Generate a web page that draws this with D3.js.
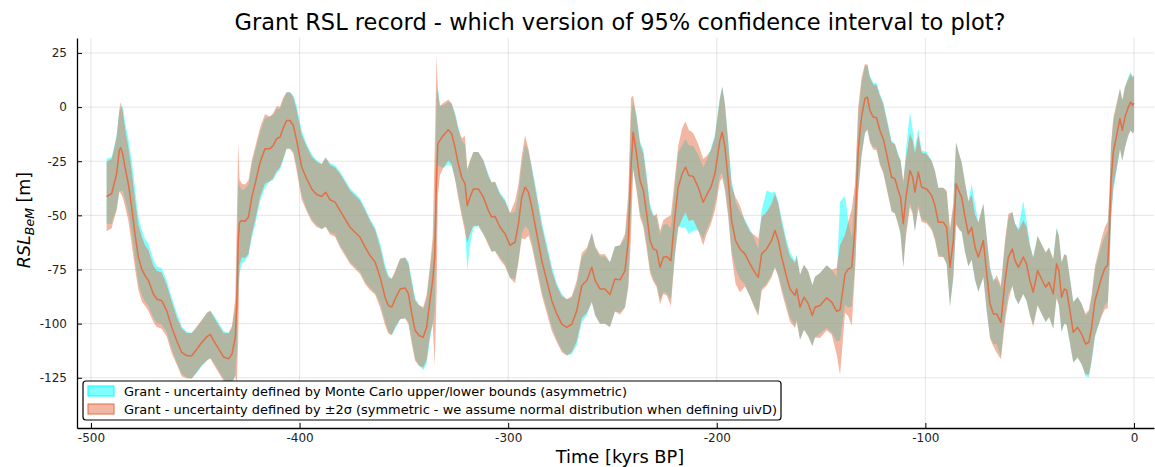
<!DOCTYPE html>
<html><head><meta charset="utf-8">
<script src="https://cdn.jsdelivr.net/npm/d3@7"></script>
<style>body{margin:0;background:#fff;} svg{display:block;font-family:"DejaVu Sans",sans-serif;}</style>
</head><body><svg id="chart" width="1155" height="467"></svg>
<script>
// ---- data (time in kyrs BP, RSL in m) ----
const time = [
-492.5,-490.1,-489.3,-487.7,-486.4,-485.8,-484.8,-483.7,-482.1,-480.5,
-478.9,-477.3,-475.7,-474.1,-472.5,-470.1,-468.5,-466.1,-463.7,-461.3,
-458.9,-456.5,-454.1,-451.7,-449.2,-446.8,-444.4,-442.8,-441.2,-438.8,
-436.4,-434,-432.4,-430.8,-430.1,-429.4,-428.8,-427.7,-426.1,-424.5,
-422.9,-421.3,-418.9,-416.6,-414.2,-412.6,-411,-409.4,-407.8,-406.2,
-404.6,-403,-401.4,-399,-396.6,-394.2,-391.8,-389.4,-387.5,-385.4,
-383,-380.6,-378.2,-375.8,-373.4,-371,-368.6,-366.2,-363.8,-361.4,
-359,-357.4,-355.8,-354.2,-351.8,-349.4,-347.8,-346.2,-344.6,-342.7,
-340.7,-339.1,-337.5,-336.2,-335.2,-334.3,-333.7,-332.7,-331.1,-328.7,
-327.1,-325.5,-323.9,-322.3,-320.7,-319.6,-318.3,-316.7,-314.3,-311.9,
-309.5,-307.9,-306.3,-303.9,-301.5,-299.1,-296.7,-295.1,-293.5,-291.9,
-290.3,-288.7,-286.3,-283.9,-281.5,-279.1,-276.7,-274.3,-271.9,-269.5,
-267.1,-264.7,-262.3,-259.9,-258.3,-256,-253.6,-251.2,-248.8,-246.4,
-244,-242.4,-241.1,-240.1,-238.5,-236.8,-235.2,-233.6,-232,-230.4,
-228.8,-227.2,-225.6,-224,-222,-220.1,-218.5,-216.6,-215,-213.4,
-211.3,-208.9,-206.5,-204.9,-202.8,-200.9,-198.5,-197.4,-196.1,-194.5,
-192.9,-191,-188.9,-186.5,-184.1,-181.7,-180.1,-178.5,-176.1,-173.7,
-172.1,-170.5,-168.9,-166.5,-164.9,-162.5,-161.7,-160.1,-158.2,-156.1,
-154.2,-152.9,-150.5,-147.3,-144.9,-142.5,-140.9,-138.5,-136.9,-135.3,
-133.7,-132.2,-130.6,-129,-127.8,-126.6,-125,-123.4,-121.8,-120.2,
-118.6,-116.2,-114.6,-113,-111.9,-110.6,-109.3,-107.4,-106.1,-105,
-103.4,-101.8,-99.4,-97,-95.4,-93.8,-91.4,-89.8,-88.2,-86.6,
-85.3,-83.4,-82.6,-81,-79.4,-77.8,-76.2,-74.6,-72.2,-70.6,
-69,-67.4,-65.8,-63.8,-61.8,-60.2,-58.3,-57,-55.4,-53.1,
-51.5,-49.9,-48.3,-46.2,-44.3,-42.3,-40.7,-38.7,-37.1,-36,
-34.7,-33.4,-32.3,-30.7,-29.1,-27,-25.1,-23.2,-21.6,-20.3,
-18.7,-17.1,-15.5,-13.9,-12.6,-11.8,-11,-9.9,-8.3,-6.7,
-5.6,-4.3,-2.7,-1.6,-0.6,0];

const rslMean = [
-41.3,-40,-37,-30.8,-20,-18.8,-21.6,-27.7,-35.4,-46.2,
-58.5,-69.3,-74.7,-77.8,-80,-86.3,-88.6,-89.4,-94,-101.7,
-107.9,-113.3,-114.8,-114.8,-111.7,-108.6,-106,-105,-107.9,-111.7,
-115.4,-116.3,-114,-106.2,-91,-61.6,-53.2,-52.4,-52.7,-50.8,
-41.6,-35.4,-25.4,-19.3,-19.3,-17.7,-14.6,-13.9,-9.6,-6.2,
-6.2,-8.5,-15.4,-27.7,-33.1,-37.8,-40.4,-41.3,-39.3,-42.8,
-43.9,-47.8,-51.6,-55.5,-57.8,-60.1,-64.7,-68.6,-71.6,-78.6,
-87.8,-91.7,-92.3,-88.6,-84,-83.5,-86.3,-95.5,-103.2,-105.5,
-106.3,-101.7,-89.4,-80.1,-69.3,-30.8,-16.9,-15.4,-13.1,-10.5,
-12.3,-18.5,-26.2,-32.4,-35.4,-45.5,-41.6,-37.8,-37.8,-41.6,
-47.8,-50.8,-50.5,-55.5,-58.5,-63.9,-62.4,-53.9,-41.6,-37,
-39.3,-46.2,-58.5,-70.9,-80.1,-89.4,-95.5,-100.2,-101.7,-100.2,
-94,-82.4,-80.1,-74,-80.1,-84,-84,-86.6,-79.4,-79.8,
-75.5,-61.6,-27.7,-11.6,-21.6,-33.9,-38.5,-49.3,-61.6,-65.5,
-66.2,-74,-69.3,-69,-70.9,-50.8,-37,-30.8,-27.7,-31.6,
-32,-37,-43.9,-40.7,-37,-30.8,-15.4,-11.6,-18.5,-33.9,
-52.4,-61.6,-65.5,-67.8,-72.4,-76.3,-78.6,-67.8,-65.5,-61.6,
-57,-61.6,-69.3,-78.6,-84,-87,-84,-92.4,-87.8,-90.9,
-96.3,-92.4,-91.6,-88.1,-90.1,-94.3,-93.7,-77,-74.7,-74,
-55.5,-20,-4.6,3.9,4.6,-1.5,-4.6,-4.9,-10.8,-14.6,
-21.6,-32.4,-33.1,-38.5,-41.6,-53.9,-41.6,-29.3,-32.4,-39.3,
-30,-37,-37.8,-40.8,-45.5,-53.2,-53.2,-55.5,-74,-61.6,
-35.4,-40,-41.6,-50.8,-58.5,-55.5,-64.7,-69.3,-61.6,-77,
-90.9,-95.5,-95.5,-99.4,-80.1,-69.3,-65.5,-70.9,-74,-69.3,
-72.4,-80.1,-85.5,-75.5,-79.4,-83.2,-80.9,-86.3,-72.4,-75.5,
-87.8,-84,-84.5,-94,-104,-101.7,-104.8,-109.4,-108.6,-101.7,
-89.4,-84,-78.6,-74.3,-73,-58.4,-33.7,-20.8,-13.1,-5.4,
-10.8,-4.6,0,2.3,0.8,1.8];

// half-width of the symmetric ±2σ band
const twoSigma = [
16,16,16,17,19,21,20,18,17,17,
16,15,15,14,14,13,13,13,12,12,
11,11,10.5,10.5,10.5,10.5,11,11,11,11,
11,12,13,18,38,45,20,17,17,17,
17,17,16,16,15,15,15,14,14,13,
13,13,14,15,15,15,15,15,16,16,
16,17,17,17,17,17,17,16,15,14,
13,13,13,13,14,14,14,14,14,14,
14,15,16,20,50,55,24,16,15,14,
14,15,16,18,22,17,17,17,17,17,
16,16,16,15,15,15,19,18,19,24,
20,18,17,16,15,14,13,13,13,13,
14,15,15,16,16,16,16,15,15,16,
17,22,32,17,17,17,17,16,15,15,
17,17,17,18,21,18,19,21,21,21,
20,20,20,18,17,17,19,21,20,17,
16,20,20,15,15,17,18,17,17,17,
17,17,16,15,15,15,15,15,15,15,
14,14,15,15,15,20,30,18,22,27,
20,20,18,16,15,15,15,15,16,16,
16,16,16,16,17,20,18,17,17,18,
17,16,16,16,16,16,16,17,18,17,
19,17,16,16,15,15,15,16,17,17,
16,15,18,17,19,20,17,17,17,17,
17,16,16,16,16,16,16,16,16,16,
16,16,16,15,14,14,14,14,15,15,
16,17,18,19,20,18,17,16,15,14,
14,14,13,13,13,13];

// Monte Carlo bounds: distance above / below the mean
const mcAbove = [
17.4,17,17,18,18,18,22,21,21,22,
21,19,18,17,17,16,15,15,14,14,
13,12,11,10.5,10,10,11,11,12,12,
12,12,12,14,18,27,17,14,15,15,
15,15,14,14,15,14,14,13,13,13,
13,14,16,17,16,16,16,15,16,17,
17,18,18,18,18,18,18,17,16,16,
15,14,13,12,14,14,15,16,15,14,
13,13,14,15,20,38,26,16,14,13,
14,16,17,17,18,16,16,17,17,17,
17,16,16,16,16,15,14,14,15,20,
19,19,19,18,17,16,14,14,13,12,
12,13,14,16,15,15,15,15,15,16,
15,16,24,14,18,18,19,18,17,16,
15,15,15,15,15,14,16,13,13,14,
14,15,16,16,18,18,20,21,20,19,
19,18,17,16,16,15,13,20,27,22,
18,18,18,17,17,16,16,15,15,15,
14,14,15,15,15,16,50,36,22,14,
16,16,16,15,15,16,16,16,17,17,
17,17,16,17,17,18,22,27,22,20,
20,17,17,16,16,16,16,16,16,16,
19,17,16,16,15,20,20,16,17,17,
17,16,16,16,17,18,17,17,18,26,
20,17,16,16,16,16,16,16,17,16,
16,16,16,15,14,14,14,13,14,14,
14,15,15,15,16,15,15,14,14,14,
14,14,14,14,13,13];

const mcBelow = [
12.6,14,14,16,19,20,17,15,13,12,
12,12,12,12,12,11,11,11,10,10,
10,10,10,10.5,11,11,11,11,10,10,
10,12,14,18,22,23,24,20,18,18,
19,19,18,18,15,16,16,15,15,13,
13,12,12,13,14,14,14,15,16,15,
15,16,16,16,16,16,16,15,14,12,
11,12,13,14,14,14,13,12,13,14,
15,17,18,20,25,20,10,12,15,16,
15,14,14,16,20,30,22,18,17,17,
15,16,16,14,14,15,17,17,17,18,
17,16,15,14,13,12,12,12,13,14,
16,17,16,16,16,16,16,15,15,15,
17,20,18,17,15,15,15,14,13,14,
16,15,16,17,18,18,18,25,28,27,
25,20,17,16,15,14,16,19,18,15,
14,13,14,14,15,16,17,16,16,16,
17,16,14,13,13,14,14,15,15,15,
14,14,13,14,14,14,14,14,18,18,
18,18,18,16,15,14,14,14,15,15,
15,15,16,15,17,20,16,15,16,18,
15,15,15,15,15,15,16,17,18,17,
18,17,16,16,15,15,15,16,17,17,
15,14,14,16,16,17,17,17,17,17,
17,16,15,16,16,16,16,16,15,16,
16,16,16,15,14,14,14,15,16,16,
17,17,17,17,17,18,19,18,16,14,
14,14,13,13,13,13];

const xTicks = [-500, -400, -300, -200, -100, 0];
const yTicks = [25, 0, -25, -50, -75, -100, -125];
const titleText = "Grant RSL record - which version of 95% confidence interval to plot?";
const legendLabels = [
  "Grant - uncertainty defined by Monte Carlo upper/lower bounds (asymmetric)",
  "Grant - uncertainty defined by \u00b12\u03c3 (symmetric - we assume normal distribution when defining uivD)"
];

// ---- layout ----
const svg = d3.select("#chart");
const pL = 77, pR = 1154, pT = 38, pB = 428;
const x = d3.scaleLinear().domain([-506.7, 9.6]).range([pL, pR]);
const y = d3.scaleLinear().domain([-148.2, 31.9]).range([pB, pT]);

const cyanFill = "rgba(0,255,255,0.5)";
const salmonFill = "rgba(227,111,71,0.5)";
const lineColor = "#e26f46";

const rows = time.map((t, i) => ({
  t, m: rslMean[i],
  sHi: rslMean[i] + twoSigma[i], sLo: rslMean[i] - twoSigma[i],
  cHi: rslMean[i] + mcAbove[i], cLo: rslMean[i] - mcBelow[i]
}));

svg.append("defs").append("clipPath").attr("id", "clip")
  .append("rect").attr("x", pL).attr("y", pT).attr("width", pR - pL).attr("height", pB - pT);

// grid
const grid = svg.append("g");
grid.selectAll("line.gx").data(xTicks).join("line")
  .attr("x1", d => x(d)).attr("x2", d => x(d)).attr("y1", pT).attr("y2", pB)
  .attr("stroke", "#000").attr("stroke-opacity", 0.1).attr("stroke-width", 1);
grid.selectAll("line.gy").data(yTicks).join("line")
  .attr("y1", d => y(d)).attr("y2", d => y(d)).attr("x1", pL).attr("x2", pR)
  .attr("stroke", "#000").attr("stroke-opacity", 0.1).attr("stroke-width", 1);

const plot = svg.append("g").attr("clip-path", "url(#clip)");
plot.append("path").datum(rows)
  .attr("d", d3.area().x(d => x(d.t)).y0(d => y(d.cLo)).y1(d => y(d.cHi)))
  .attr("fill", cyanFill).attr("stroke", "none");
plot.append("path").datum(rows)
  .attr("d", d3.area().x(d => x(d.t)).y0(d => y(d.sLo)).y1(d => y(d.sHi)))
  .attr("fill", salmonFill).attr("stroke", "none");
plot.append("path").datum(rows)
  .attr("d", d3.line().x(d => x(d.t)).y(d => y(d.m)))
  .attr("fill", "none").attr("stroke", lineColor).attr("stroke-width", 1.5).attr("stroke-linejoin", "round");

// axes
const xAxis = svg.append("g").attr("transform", `translate(0,${pB})`)
  .call(d3.axisBottom(x).tickValues(xTicks).tickFormat(d => String(d)).tickSizeInner(-5).tickSizeOuter(0).tickPadding(5));
const yAxis = svg.append("g").attr("transform", `translate(${pL},0)`)
  .call(d3.axisLeft(y).tickValues(yTicks).tickFormat(d => String(d)).tickSizeInner(-5).tickSizeOuter(0).tickPadding(10));
[xAxis, yAxis].forEach(a => {
  a.select(".domain").attr("stroke", "#000").attr("stroke-width", 1.3);
  a.selectAll(".tick line").attr("stroke", "#000").attr("stroke-width", 1);
  a.selectAll(".tick text").attr("font-family", "DejaVu Sans").attr("font-size", 12).attr("fill", "#222");
});

// title and axis labels
svg.append("text").attr("x", 620).attr("y", 30).attr("text-anchor", "middle")
  .attr("font-size", 22.5).attr("fill", "#000").text(titleText);
svg.append("text").attr("x", 620).attr("y", 463).attr("text-anchor", "middle")
  .attr("font-size", 17.8).attr("fill", "#000").text("Time [kyrs BP]");
const yl = svg.append("text").attr("transform", "translate(30,220) rotate(-90)")
  .attr("text-anchor", "middle").attr("font-size", 17.5).attr("fill", "#000");
yl.append("tspan").attr("font-style", "italic").text("RSL");
yl.append("tspan").attr("font-style", "italic").attr("font-size", 12.5).attr("dy", 4).text("BeM");
yl.append("tspan").attr("dy", -4).text(" [m]");

// legend
const lg = svg.append("g");
lg.append("rect").attr("x", 83).attr("y", 381).attr("width", 698).attr("height", 39).attr("rx", 3)
  .attr("fill", "#fff").attr("stroke", "#000").attr("stroke-width", 1.2);
const legendFills = [cyanFill, salmonFill];
const legendStrokes = ["#00ffff", lineColor];
legendLabels.forEach((lab, i) => {
  const cy = 391 + i * 18;
  lg.append("rect").attr("x", 88).attr("y", cy - 5).attr("width", 26).attr("height", 10)
    .attr("fill", legendFills[i]).attr("stroke", legendStrokes[i]).attr("stroke-width", 1);
  lg.append("text").attr("x", 124).attr("y", cy).attr("dy", "0.35em")
    .attr("font-size", 12.95).attr("fill", "#000").text(lab);
});
</script>
</body></html>
